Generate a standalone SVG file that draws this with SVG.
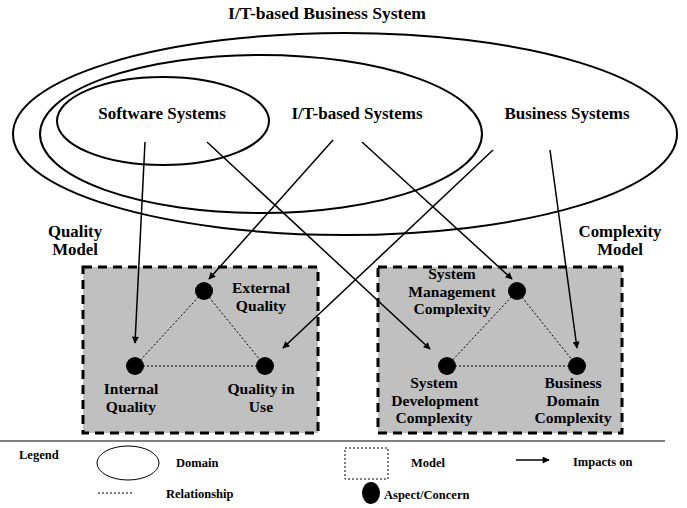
<svg xmlns="http://www.w3.org/2000/svg" width="687" height="508" viewBox="0 0 687 508">
<defs>
<marker id="ah" viewBox="0 0 10 10" refX="9" refY="5" markerWidth="9" markerHeight="7" markerUnits="userSpaceOnUse" orient="auto">
<path d="M0,0 L10,5 L0,10 z" fill="#000"/>
</marker>
<style>
text{font-family:"Liberation Serif","Times New Roman",serif;font-weight:bold;fill:#000}
.t{font-size:17.6px;text-anchor:middle}
.l{font-size:17px;text-anchor:middle}
.m{font-size:16.8px;text-anchor:middle}
.n{font-size:15.6px;text-anchor:middle}
.g{font-size:12.5px}
.dom{fill:none;stroke:#000;stroke-width:2}
.box{fill:#c0c0c0;stroke:#000;stroke-width:3;stroke-dasharray:9 6}
.rel{stroke:#000;stroke-width:1;stroke-dasharray:2 2;fill:none}
.imp{stroke:#000;stroke-width:1.5;fill:none;marker-end:url(#ah)}
.dot{fill:#000}
</style>
</defs>
<rect width="687" height="508" fill="#fff"/>
<text class="t" x="327" y="19">I/T-based Business System</text>
<g id="domain-business">
<ellipse class="dom" cx="345" cy="134" rx="332" ry="101"/>
<text class="l" x="567" y="119">Business Systems</text>
</g>
<g id="domain-it">
<ellipse class="dom" cx="261" cy="134" rx="221" ry="79"/>
<text class="l" x="357" y="119">I/T-based Systems</text>
</g>
<g id="domain-software">
<ellipse class="dom" cx="163" cy="121" rx="106" ry="44"/>
<text class="l" x="162" y="119">Software Systems</text>
</g>
<g id="quality-model">
<rect class="box" x="83" y="267" width="235" height="166"/>
<text class="m" x="75" y="237">Quality</text>
<text class="m" x="75" y="255">Model</text>
</g>
<g id="complexity-model">
<rect class="box" x="378" y="267" width="244" height="166"/>
<text class="m" x="620" y="237">Complexity</text>
<text class="m" x="620" y="255">Model</text>
</g>
<g id="relationships">
<line class="rel" x1="204" y1="291" x2="135" y2="366"/>
<line class="rel" x1="204" y1="291" x2="265" y2="366"/>
<line class="rel" x1="135" y1="366" x2="265" y2="366"/>
<line class="rel" x1="517" y1="291" x2="447" y2="366"/>
<line class="rel" x1="517" y1="291" x2="577" y2="366"/>
<line class="rel" x1="447" y1="366" x2="577" y2="366"/>
</g>
<g id="external-quality">
<circle class="dot" cx="204" cy="291" r="9"/>
<text class="n" x="261" y="293">External</text>
<text class="n" x="261" y="311">Quality</text>
</g>
<g id="internal-quality">
<circle class="dot" cx="135" cy="366" r="9"/>
<text class="n" x="131" y="394">Internal</text>
<text class="n" x="131" y="412">Quality</text>
</g>
<g id="quality-in-use">
<circle class="dot" cx="265" cy="366" r="9"/>
<text class="n" x="261" y="394">Quality in</text>
<text class="n" x="261" y="412">Use</text>
</g>
<g id="system-management-complexity">
<circle class="dot" cx="517" cy="291" r="9"/>
<text class="n" x="452" y="279">System</text>
<text class="n" x="452" y="296.5">Management</text>
<text class="n" x="452" y="314">Complexity</text>
</g>
<g id="system-development-complexity">
<circle class="dot" cx="447" cy="366" r="9"/>
<text class="n" x="434" y="388">System</text>
<text class="n" x="435" y="405.5">Development</text>
<text class="n" x="434" y="423">Complexity</text>
</g>
<g id="business-domain-complexity">
<circle class="dot" cx="577" cy="366" r="9"/>
<text class="n" x="573" y="388">Business</text>
<text class="n" x="573" y="405.5">Domain</text>
<text class="n" x="573" y="423">Complexity</text>
</g>
<g id="connectors">
<line class="imp" x1="145" y1="142" x2="135" y2="343"/>
<line class="imp" x1="207" y1="142" x2="430" y2="349"/>
<line class="imp" x1="333" y1="140" x2="209" y2="279"/>
<line class="imp" x1="362" y1="142" x2="512" y2="279"/>
<line class="imp" x1="493" y1="150" x2="283" y2="348"/>
<line class="imp" x1="550" y1="150" x2="577" y2="348"/>
</g>
<g id="legend">
<line x1="0" y1="441" x2="665" y2="441" stroke="#000" stroke-width="1.2"/>
<text class="g" x="19" y="459">Legend</text>
<ellipse cx="128" cy="463" rx="31" ry="17" fill="none" stroke="#000" stroke-width="1"/>
<text class="g" x="176" y="467">Domain</text>
<rect x="345" y="448" width="43" height="31" fill="none" stroke="#000" stroke-width="1" stroke-dasharray="2 2"/>
<text class="g" x="411" y="467">Model</text>
<line class="imp" x1="516" y1="460" x2="549" y2="460"/>
<text class="g" x="573" y="466">Impacts on</text>
<line class="rel" x1="98" y1="493" x2="134" y2="493"/>
<text class="g" x="166" y="498">Relationship</text>
<ellipse class="dot" cx="371" cy="493" rx="9" ry="11"/>
<text class="g" x="384" y="499">Aspect/Concern</text>
</g>
</svg>
